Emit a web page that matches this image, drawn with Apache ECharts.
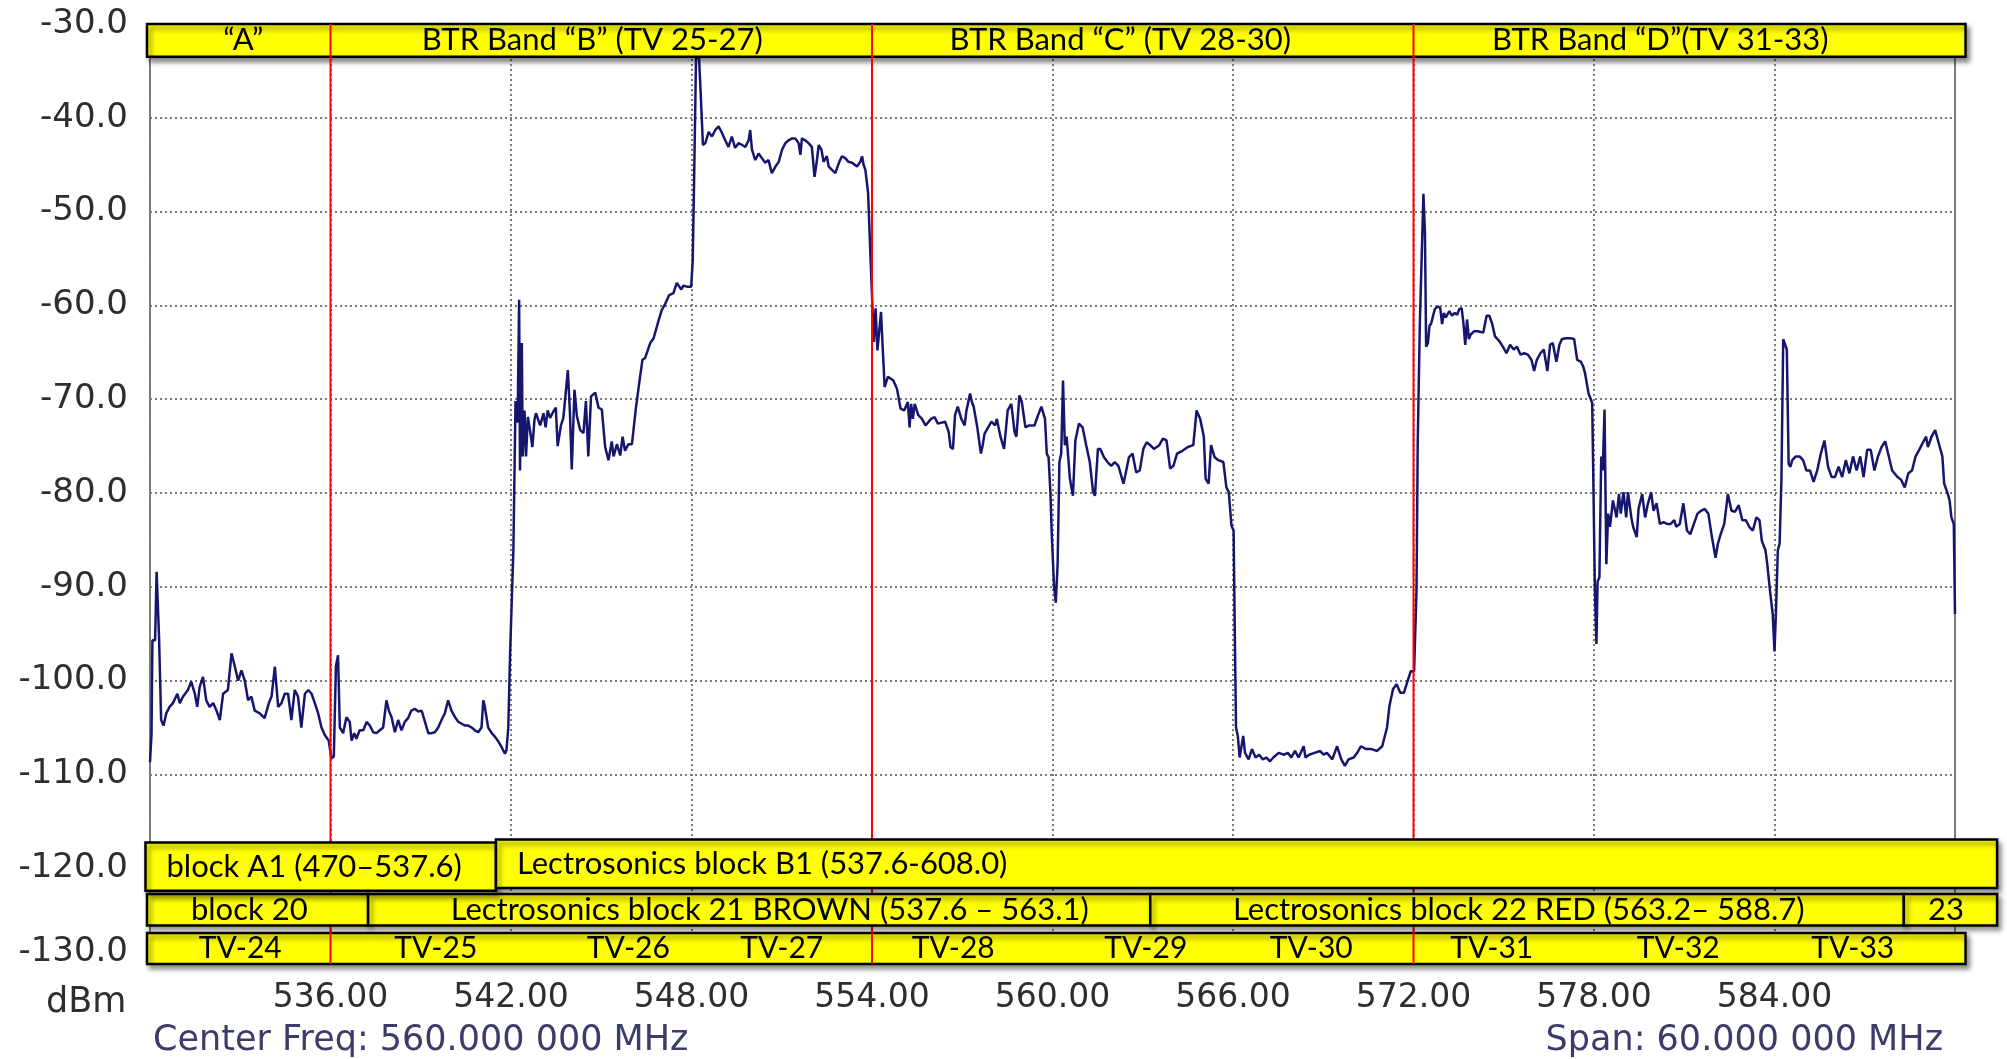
<!DOCTYPE html>
<html><head><meta charset="utf-8">
<script src="https://cdn.jsdelivr.net/npm/echarts@6/dist/echarts.min.js"></script>
<style>html,body{margin:0;padding:0;background:#fff}#c{width:2007px;height:1059px}</style>
</head><body><div id="c"></div>
<script>
// ---- spectrum trace, [MHz, dBm] ----
const traceA = [[530.0,-108.7],[530.05,-105.7],[530.08,-95.7],[530.17,-95.7],[530.22,-88.4],[530.3,-95.3],[530.37,-104.2],[530.45,-104.8],[530.54,-103.5],[530.65,-102.8],[530.76,-102.4],[530.91,-101.4],[530.99,-102.4],[531.1,-101.7],[531.26,-101.0],[531.37,-100.1],[531.49,-101.4],[531.57,-102.8],[531.65,-100.7],[531.76,-99.6],[531.87,-102.1],[531.98,-102.8],[532.1,-102.4],[532.21,-103.2],[532.32,-104.2],[532.43,-101.4],[532.59,-101.0],[532.71,-97.1],[532.82,-98.5],[532.93,-100.0],[533.04,-98.9],[533.15,-100.0],[533.26,-102.1],[533.37,-101.7],[533.48,-103.2],[533.65,-103.5],[533.81,-104.0],[533.95,-102.4],[534.04,-101.7],[534.15,-98.5],[534.26,-102.8],[534.37,-102.4],[534.48,-101.4],[534.59,-101.4],[534.7,-104.2],[534.81,-101.0],[534.92,-101.7],[535.03,-105.0],[535.15,-101.4],[535.26,-101.0],[535.37,-101.4],[535.48,-102.4],[535.59,-103.5],[535.7,-105.0],[535.81,-105.8],[535.94,-106.4]];
const traceB = [[536.03,-108.3],[536.11,-108.1],[536.18,-98.5],[536.25,-97.3],[536.31,-105.0],[536.42,-105.6],[536.53,-103.9],[536.64,-104.4],[536.7,-106.4],[536.79,-105.6],[536.86,-106.2],[536.97,-105.3],[537.09,-105.3],[537.2,-104.4],[537.31,-104.8],[537.42,-105.5],[537.53,-105.6],[537.64,-105.3],[537.75,-105.0],[537.86,-102.1],[537.94,-103.2],[538.03,-103.9],[538.14,-105.5],[538.25,-104.2],[538.36,-105.3],[538.47,-104.4],[538.58,-104.0],[538.69,-103.2],[538.8,-103.0],[538.92,-103.3],[539.03,-103.2],[539.14,-104.4],[539.25,-105.6],[539.36,-105.6],[539.47,-105.5],[539.58,-105.0],[539.69,-104.2],[539.8,-103.5],[539.91,-102.1],[540.02,-103.2],[540.14,-103.9],[540.25,-104.4],[540.36,-104.6],[540.47,-104.8],[540.58,-104.8],[540.69,-105.0],[540.8,-105.3],[540.91,-105.5],[541.02,-105.0],[541.08,-102.1],[541.13,-102.8],[541.24,-105.0],[541.36,-105.6],[541.47,-106.0],[541.58,-106.5],[541.69,-107.1],[541.8,-107.8],[541.85,-107.4],[541.91,-105.0],[541.97,-97.1],[542.08,-86.0],[542.15,-70.2],[542.22,-72.5],[542.27,-59.4],[542.3,-77.6],[542.36,-64.0],[542.39,-76.1],[542.45,-71.2],[542.5,-76.1],[542.56,-71.9],[542.63,-73.3],[542.71,-75.1],[542.78,-72.2],[542.83,-71.5],[542.97,-72.8],[543.08,-71.5],[543.15,-73.0],[543.22,-71.2],[543.3,-72.0],[543.41,-71.3],[543.49,-70.9],[543.55,-75.0],[543.66,-72.8],[543.74,-72.0],[543.89,-66.9],[543.96,-71.5],[544.02,-77.5],[544.11,-69.0],[544.19,-71.8],[544.3,-73.3],[544.41,-73.6],[544.49,-70.2],[544.57,-76.1],[544.66,-69.7],[544.8,-69.3],[544.91,-70.9],[545.02,-71.1],[545.13,-75.1],[545.24,-76.5],[545.35,-74.5],[545.41,-76.1],[545.52,-74.8],[545.63,-76.0],[545.71,-74.0],[545.79,-75.5],[545.9,-74.8],[546.02,-74.8],[546.15,-71.0],[546.29,-67.6],[546.37,-65.8],[546.46,-65.6],[546.63,-64.0],[546.74,-63.5],[546.88,-61.9],[547.01,-60.5],[547.13,-59.8],[547.26,-58.9],[547.4,-58.7],[547.51,-57.6],[547.66,-58.3],[547.73,-57.9],[547.85,-58.0],[547.99,-58.0],[548.04,-55.2],[548.08,-48.0],[548.15,-33.6],[548.25,-33.6],[548.3,-37.0],[548.38,-42.9],[548.46,-42.7],[548.57,-41.5],[548.68,-42.0],[548.79,-41.3],[548.9,-40.9],[549.01,-41.6],[549.12,-42.4],[549.23,-43.1],[549.34,-42.0],[549.45,-43.2],[549.57,-42.7],[549.68,-42.9],[549.79,-43.1],[549.9,-42.4],[549.95,-41.3],[550.01,-43.4],[550.12,-44.5],[550.23,-43.8],[550.34,-44.3],[550.45,-44.8],[550.56,-44.5],[550.67,-45.9],[550.79,-45.2],[550.9,-44.7],[551.01,-43.4],[551.12,-42.7],[551.23,-42.4],[551.34,-42.2],[551.45,-42.2],[551.56,-42.7],[551.62,-43.95],[551.67,-42.2],[551.78,-42.4],[551.89,-42.7],[552.0,-43.1],[552.09,-46.3],[552.17,-44.5],[552.23,-42.9],[552.32,-43.4],[552.39,-44.7],[552.5,-44.1],[552.56,-45.2],[552.67,-45.55],[552.78,-45.9],[552.9,-44.8],[553.0,-44.1],[553.11,-44.3],[553.22,-44.7],[553.34,-44.8],[553.5,-45.2],[553.61,-44.7],[553.67,-44.1],[553.72,-45.0],[553.78,-45.55],[553.87,-48.0],[553.95,-54.8]];
const traceC = [[554.0,-54.8],[554.06,-63.9],[554.12,-60.3],[554.18,-64.8],[554.24,-64.8],[554.3,-60.7],[554.36,-64.8],[554.42,-68.7],[554.53,-67.6],[554.71,-68.0],[554.83,-68.9],[554.95,-71.0],[555.07,-71.2],[555.19,-70.3],[555.25,-73.0],[555.3,-70.5],[555.36,-72.1],[555.42,-70.5],[555.54,-71.7],[555.66,-72.1],[555.78,-72.8],[555.96,-72.1],[556.08,-71.9],[556.19,-72.6],[556.43,-72.4],[556.55,-73.5],[556.61,-75.1],[556.69,-75.3],[556.76,-71.7],[556.85,-70.8],[556.97,-72.1],[557.08,-72.8],[557.14,-71.2],[557.26,-69.4],[557.32,-70.3],[557.38,-70.8],[557.5,-73.0],[557.62,-75.8],[557.68,-74.9],[557.74,-73.7],[557.86,-73.0],[557.97,-72.4],[558.09,-72.8],[558.15,-72.1],[558.27,-74.0],[558.39,-75.3],[558.51,-71.2],[558.63,-70.5],[558.74,-73.5],[558.8,-74.0],[558.9,-69.6],[558.98,-70.3],[559.1,-73.0],[559.22,-72.8],[559.4,-72.8],[559.52,-71.7],[559.63,-70.8],[559.75,-72.1],[559.81,-75.8],[559.87,-76.2],[559.93,-79.9],[559.97,-84.0],[560.05,-89.9],[560.11,-91.7],[560.17,-87.6],[560.23,-76.7],[560.29,-75.8],[560.35,-68.0],[560.41,-74.9],[560.47,-74.0],[560.58,-78.5],[560.68,-80.3],[560.76,-74.4],[560.88,-72.6],[561.0,-73.0],[561.12,-74.9],[561.24,-76.7],[561.35,-79.9],[561.41,-80.3],[561.51,-75.3],[561.59,-75.3],[561.71,-76.2],[561.83,-76.7],[561.95,-77.1],[562.07,-76.7],[562.19,-77.1],[562.36,-79.0],[562.42,-78.1],[562.54,-76.2],[562.66,-75.8],[562.78,-77.8],[562.9,-77.6],[563.02,-75.3],[563.13,-74.6],[563.25,-74.9],[563.37,-75.3],[563.55,-74.9],[563.67,-74.2],[563.79,-74.4],[563.91,-77.4],[564.02,-77.1],[564.14,-75.8],[564.32,-75.5],[564.5,-75.1],[564.68,-74.9],[564.79,-71.2],[564.91,-72.1],[565.03,-74.0],[565.09,-78.5],[565.19,-79.0],[565.27,-74.9],[565.39,-76.2],[565.51,-76.5],[565.68,-76.7],[565.78,-79.4],[565.86,-79.9],[565.95,-83.5],[566.02,-84.0],[566.06,-94.9],[566.1,-105.0],[566.16,-105.9],[566.22,-108.2],[566.34,-105.9],[566.4,-107.7],[566.52,-108.4],[566.63,-107.3],[566.75,-108.2],[566.87,-107.9],[566.99,-108.4],[567.11,-108.2],[567.23,-108.6],[567.34,-108.2],[567.52,-107.7],[567.7,-107.9],[567.82,-107.7],[567.94,-108.2],[568.06,-107.5],[568.18,-108.2],[568.35,-107.0],[568.41,-108.2],[568.53,-107.9],[568.71,-107.7],[568.89,-107.5],[569.01,-107.9],[569.12,-107.7],[569.3,-108.4],[569.46,-107.0],[569.6,-108.4],[569.72,-109.1],[569.84,-108.4],[570.01,-108.2],[570.13,-107.7],[570.25,-107.0],[570.43,-107.3],[570.61,-107.3],[570.79,-107.5],[570.96,-107.0],[571.12,-105.0],[571.2,-102.7],[571.32,-100.9],[571.44,-100.4],[571.56,-101.3],[571.68,-101.3],[571.79,-100.2],[571.91,-99.0],[571.97,-99.0]];
const traceD = [[572.02,-99.0],[572.1,-90.4],[572.14,-74.7],[572.21,-62.0],[572.27,-62.0],[572.33,-48.1],[572.38,-52.2],[572.42,-64.4],[572.48,-64.0],[572.53,-62.2],[572.59,-61.9],[572.65,-61.1],[572.71,-60.4],[572.81,-60.1],[572.89,-60.3],[572.95,-62.0],[573.01,-60.8],[573.07,-61.3],[573.19,-60.6],[573.28,-61.1],[573.37,-60.8],[573.45,-61.0],[573.52,-60.4],[573.6,-60.3],[573.66,-61.9],[573.72,-64.2],[573.78,-61.5],[573.84,-63.6],[573.9,-63.1],[574.02,-62.75],[574.14,-62.75],[574.32,-62.9],[574.43,-61.1],[574.52,-61.1],[574.61,-61.9],[574.71,-63.3],[574.85,-63.8],[574.97,-64.4],[575.09,-65.1],[575.21,-64.2],[575.33,-64.7],[575.44,-64.4],[575.56,-65.25],[575.68,-65.1],[575.8,-65.25],[575.92,-65.8],[576.01,-67.0],[576.1,-65.8],[576.22,-65.1],[576.33,-64.7],[576.45,-67.0],[576.54,-64.2],[576.63,-64.0],[576.75,-66.0],[576.85,-64.2],[576.93,-63.6],[577.05,-63.5],[577.23,-63.5],[577.34,-63.6],[577.44,-65.8],[577.56,-66.0],[577.64,-66.5],[577.7,-67.2],[577.82,-69.4],[577.94,-70.4],[577.97,-76.9],[578.03,-90.4],[578.08,-96.1],[578.12,-89.4],[578.18,-89.0],[578.24,-76.1],[578.29,-77.6],[578.35,-71.1],[578.41,-87.6],[578.47,-82.2],[578.53,-83.6],[578.63,-80.8],[578.75,-82.6],[578.83,-80.1],[578.89,-82.2],[578.98,-79.9],[579.07,-82.6],[579.13,-79.9],[579.24,-82.6],[579.3,-83.6],[579.42,-84.7],[579.48,-81.7],[579.6,-80.1],[579.7,-82.6],[579.78,-81.3],[579.9,-79.9],[579.98,-81.9],[580.08,-81.1],[580.19,-83.3],[580.31,-83.1],[580.43,-83.3],[580.55,-83.3],[580.67,-82.9],[580.73,-83.6],[580.85,-83.3],[580.97,-81.1],[581.09,-84.0],[581.2,-84.4],[581.32,-83.3],[581.44,-82.2],[581.56,-81.9],[581.68,-81.7],[581.8,-82.2],[581.92,-84.7],[582.04,-86.9],[582.12,-85.4],[582.21,-84.4],[582.33,-83.3],[582.45,-80.1],[582.57,-81.9],[582.69,-82.0],[582.81,-81.3],[582.93,-82.9],[583.05,-82.9],[583.16,-83.6],[583.28,-84.0],[583.4,-82.6],[583.5,-82.9],[583.58,-85.1],[583.7,-86.1],[583.76,-87.6],[583.85,-90.4],[583.94,-92.9],[584.0,-96.9],[584.05,-92.6],[584.11,-86.1],[584.17,-85.4],[584.23,-78.6],[584.29,-63.6],[584.35,-63.6],[584.41,-64.7],[584.47,-76.9],[584.53,-77.2],[584.59,-76.5],[584.71,-76.1],[584.83,-76.1],[584.95,-76.5],[585.06,-77.6],[585.18,-77.6],[585.3,-78.8],[585.42,-77.6],[585.54,-75.8],[585.66,-74.4],[585.78,-77.2],[585.9,-78.3],[586.01,-78.3],[586.13,-77.2],[586.25,-78.3],[586.37,-76.5],[586.49,-77.9],[586.61,-76.1],[586.73,-77.6],[586.85,-76.1],[586.96,-78.3],[587.08,-75.4],[587.2,-75.4],[587.32,-77.6],[587.44,-76.1],[587.56,-75.1],[587.68,-74.5],[587.8,-76.1],[587.91,-77.6],[588.09,-78.3],[588.21,-78.6],[588.33,-79.4],[588.45,-77.9],[588.57,-77.6],[588.69,-76.1],[588.81,-75.4],[588.92,-74.7],[589.04,-74.0],[589.1,-75.1],[589.22,-74.0],[589.34,-73.3],[589.46,-74.7],[589.58,-76.1],[589.64,-79.0],[589.76,-80.1],[589.82,-80.8],[589.88,-82.6],[589.96,-83.3],[590.0,-92.9]];

// ---- axes ----
const freqMin = 530, freqMax = 590, freqStep = 6;     // MHz (center 560, span 60)
const levelMin = -130, levelMax = -30, levelStep = 10; // dBm

// ---- annotation bands (MHz) ----
const btrLabels = ['\u201CA\u201D', 'BTR Band \u201CB\u201D (TV 25-27)', 'BTR Band \u201CC\u201D (TV 28-30)', 'BTR Band \u201CD\u201D(TV 31-33)'];
const btrLabelFreqs = [533.1, 544.7, 562.25, 580.2];
const redLineFreqs = [536, 554, 572];
const block1Edges = [529.85, 541.5, 591.4];
const block1Labels = ['block A1 (470\u2013537.6)', 'Lectrosonics block B1 (537.6-608.0)'];
const block2Edges = [529.9, 537.25, 563.25, 588.3, 591.4];
const block2Labels = ['block 20', 'Lectrosonics block 21 BROWN (537.6 \u2013 563.1)', 'Lectrosonics block 22 RED (563.2\u2013 588.7)', '23'];
const block2LabelFreqs = [533.3, 550.6, 575.5, 589.7];
const tvLabels = ['TV-24','TV-25','TV-26','TV-27','TV-28','TV-29','TV-30','TV-31','TV-32','TV-33'];
const tvLabelFreqs = [533.0, 539.5, 545.9, 551.0, 556.7, 563.1, 568.6, 574.6, 580.8, 586.6];

// ---- layout (not data) ----
const rows = {
  top: [-30.0, -33.5], topSpan: [529.9, 590.35],
  b1a: [-117.25, -122.4], b1b: [-116.95, -122.1],
  b2: [-122.75, -126.1],
  tv: [-126.9, -130.2], tvSpan: [529.9, 590.35]
};
const BOXFONT = 'Lato, "Open Sans", sans-serif';

const chart = echarts.init(document.getElementById('c'), null, {renderer: 'canvas'});

function renderAnno(params, api) {
  const P = (f, d) => api.coord([f, d]);
  const kids = [];
  function box(f0, f1, yr) {
    const a = P(f0, yr[0]), b = P(f1, yr[1]);
    kids.push({type: 'rect', shape: {x: a[0], y: a[1], width: b[0] - a[0], height: b[1] - a[1]},
      style: {fill: '#ffff00', stroke: '#000000', lineWidth: 2.5, shadowBlur: 5, shadowOffsetX: 3, shadowOffsetY: 4, shadowColor: 'rgba(0,0,0,0.45)'}});
  }
  function label(text, f, yr, size, align, dx) {
    const p = P(f, (yr[0] + yr[1]) / 2);
    kids.push({type: 'text', x: p[0] + (dx || 0), y: p[1],
      style: {text: text, fill: '#000', fontSize: size, fontFamily: BOXFONT,
        align: align || 'center', verticalAlign: 'middle', textAlign: align || 'center', textVerticalAlign: 'middle'}});
  }
  // top BTR bar
  box(rows.topSpan[0], rows.topSpan[1], rows.top);
  for (let i = 0; i < btrLabels.length; i++) label(btrLabels[i], btrLabelFreqs[i], rows.top, 31);
  // TV channel bar
  box(rows.tvSpan[0], rows.tvSpan[1], rows.tv);
  for (let i = 0; i < tvLabels.length; i++) label(tvLabels[i], tvLabelFreqs[i], rows.tv, 30);
  // red channel group separators
  redLineFreqs.forEach(f => {
    const a = P(f, rows.top[0]), b = P(f, rows.tv[1]);
    kids.push({type: 'line', shape: {x1: a[0], y1: a[1], x2: b[0], y2: b[1]}, style: {stroke: '#ff0000', lineWidth: 2}});
  });
  // Lectrosonics block rows
  for (let i = 0; i < block2Labels.length; i++) {
    box(block2Edges[i], block2Edges[i + 1], rows.b2);
    label(block2Labels[i], block2LabelFreqs[i], rows.b2, 31);
  }
  const r1 = [rows.b1a, rows.b1b];
  for (let i = 0; i < block1Labels.length; i++) {
    box(block1Edges[i], block1Edges[i + 1], r1[i]);
    label(block1Labels[i], block1Edges[i], r1[i], 31, 'left', 21);
  }
  return {type: 'group', children: kids};
}

const gridDash = {color: '#7a7a7a', width: 2, type: [2, 3]};
const axisFont = {fontFamily: '"DejaVu Sans", sans-serif', color: '#2e2e2e'};
const footFont = {fontFamily: '"DejaVu Sans", sans-serif', fontSize: 35, fontWeight: 'normal', color: '#3c3c6a'};

chart.setOption({
  animation: false,
  backgroundColor: '#ffffff',
  title: [
    {text: 'dBm', left: 46, top: 985, padding: 0, textStyle: Object.assign({fontSize: 35, fontWeight: 'normal'}, axisFont)},
    {text: 'Center Freq: 560.000 000 MHz', left: 153, top: 1023, padding: 0, textStyle: footFont},
    {text: 'Span: 60.000 000 MHz', right: 64, top: 1023, padding: 0, textStyle: footFont}
  ],
  grid: {left: 150, top: 24, width: 1805, height: 938, show: true, borderColor: '#7c7c7c', borderWidth: 2, backgroundColor: 'transparent', outerBoundsMode: 'none', containLabel: false},
  xAxis: {
    type: 'value', min: freqMin, max: freqMax, interval: freqStep,
    axisLine: {show: false}, axisTick: {show: false},
    splitLine: {show: true, lineStyle: gridDash},
    axisLabel: Object.assign({show: true, fontSize: 33, margin: 20, showMinLabel: false, showMaxLabel: false,
      formatter: v => v.toFixed(2)}, axisFont)
  },
  yAxis: {
    type: 'value', min: levelMin, max: levelMax, interval: levelStep,
    axisLine: {show: false}, axisTick: {show: false},
    splitLine: {show: true, lineStyle: gridDash},
    axisLabel: Object.assign({fontSize: 34, margin: 22,
      formatter: v => (v === levelMin ? '{up|' + v.toFixed(1) + '}' : v.toFixed(1)),
      rich: {up: {fontSize: 34, fontFamily: '"DejaVu Sans", sans-serif', color: '#2e2e2e', padding: [0, 0, 20, 0]}}}, axisFont)
  },
  series: [
    {type: 'line', data: traceA.concat(traceB, traceC, traceD), showSymbol: false, symbol: 'none',
      lineStyle: {color: '#16166e', width: 2.5}, clip: true, z: 3, silent: true},
    {type: 'custom', data: [[560, -80]], renderItem: renderAnno, clip: false, z: 10, silent: true}
  ]
});
</script>
</body></html>
